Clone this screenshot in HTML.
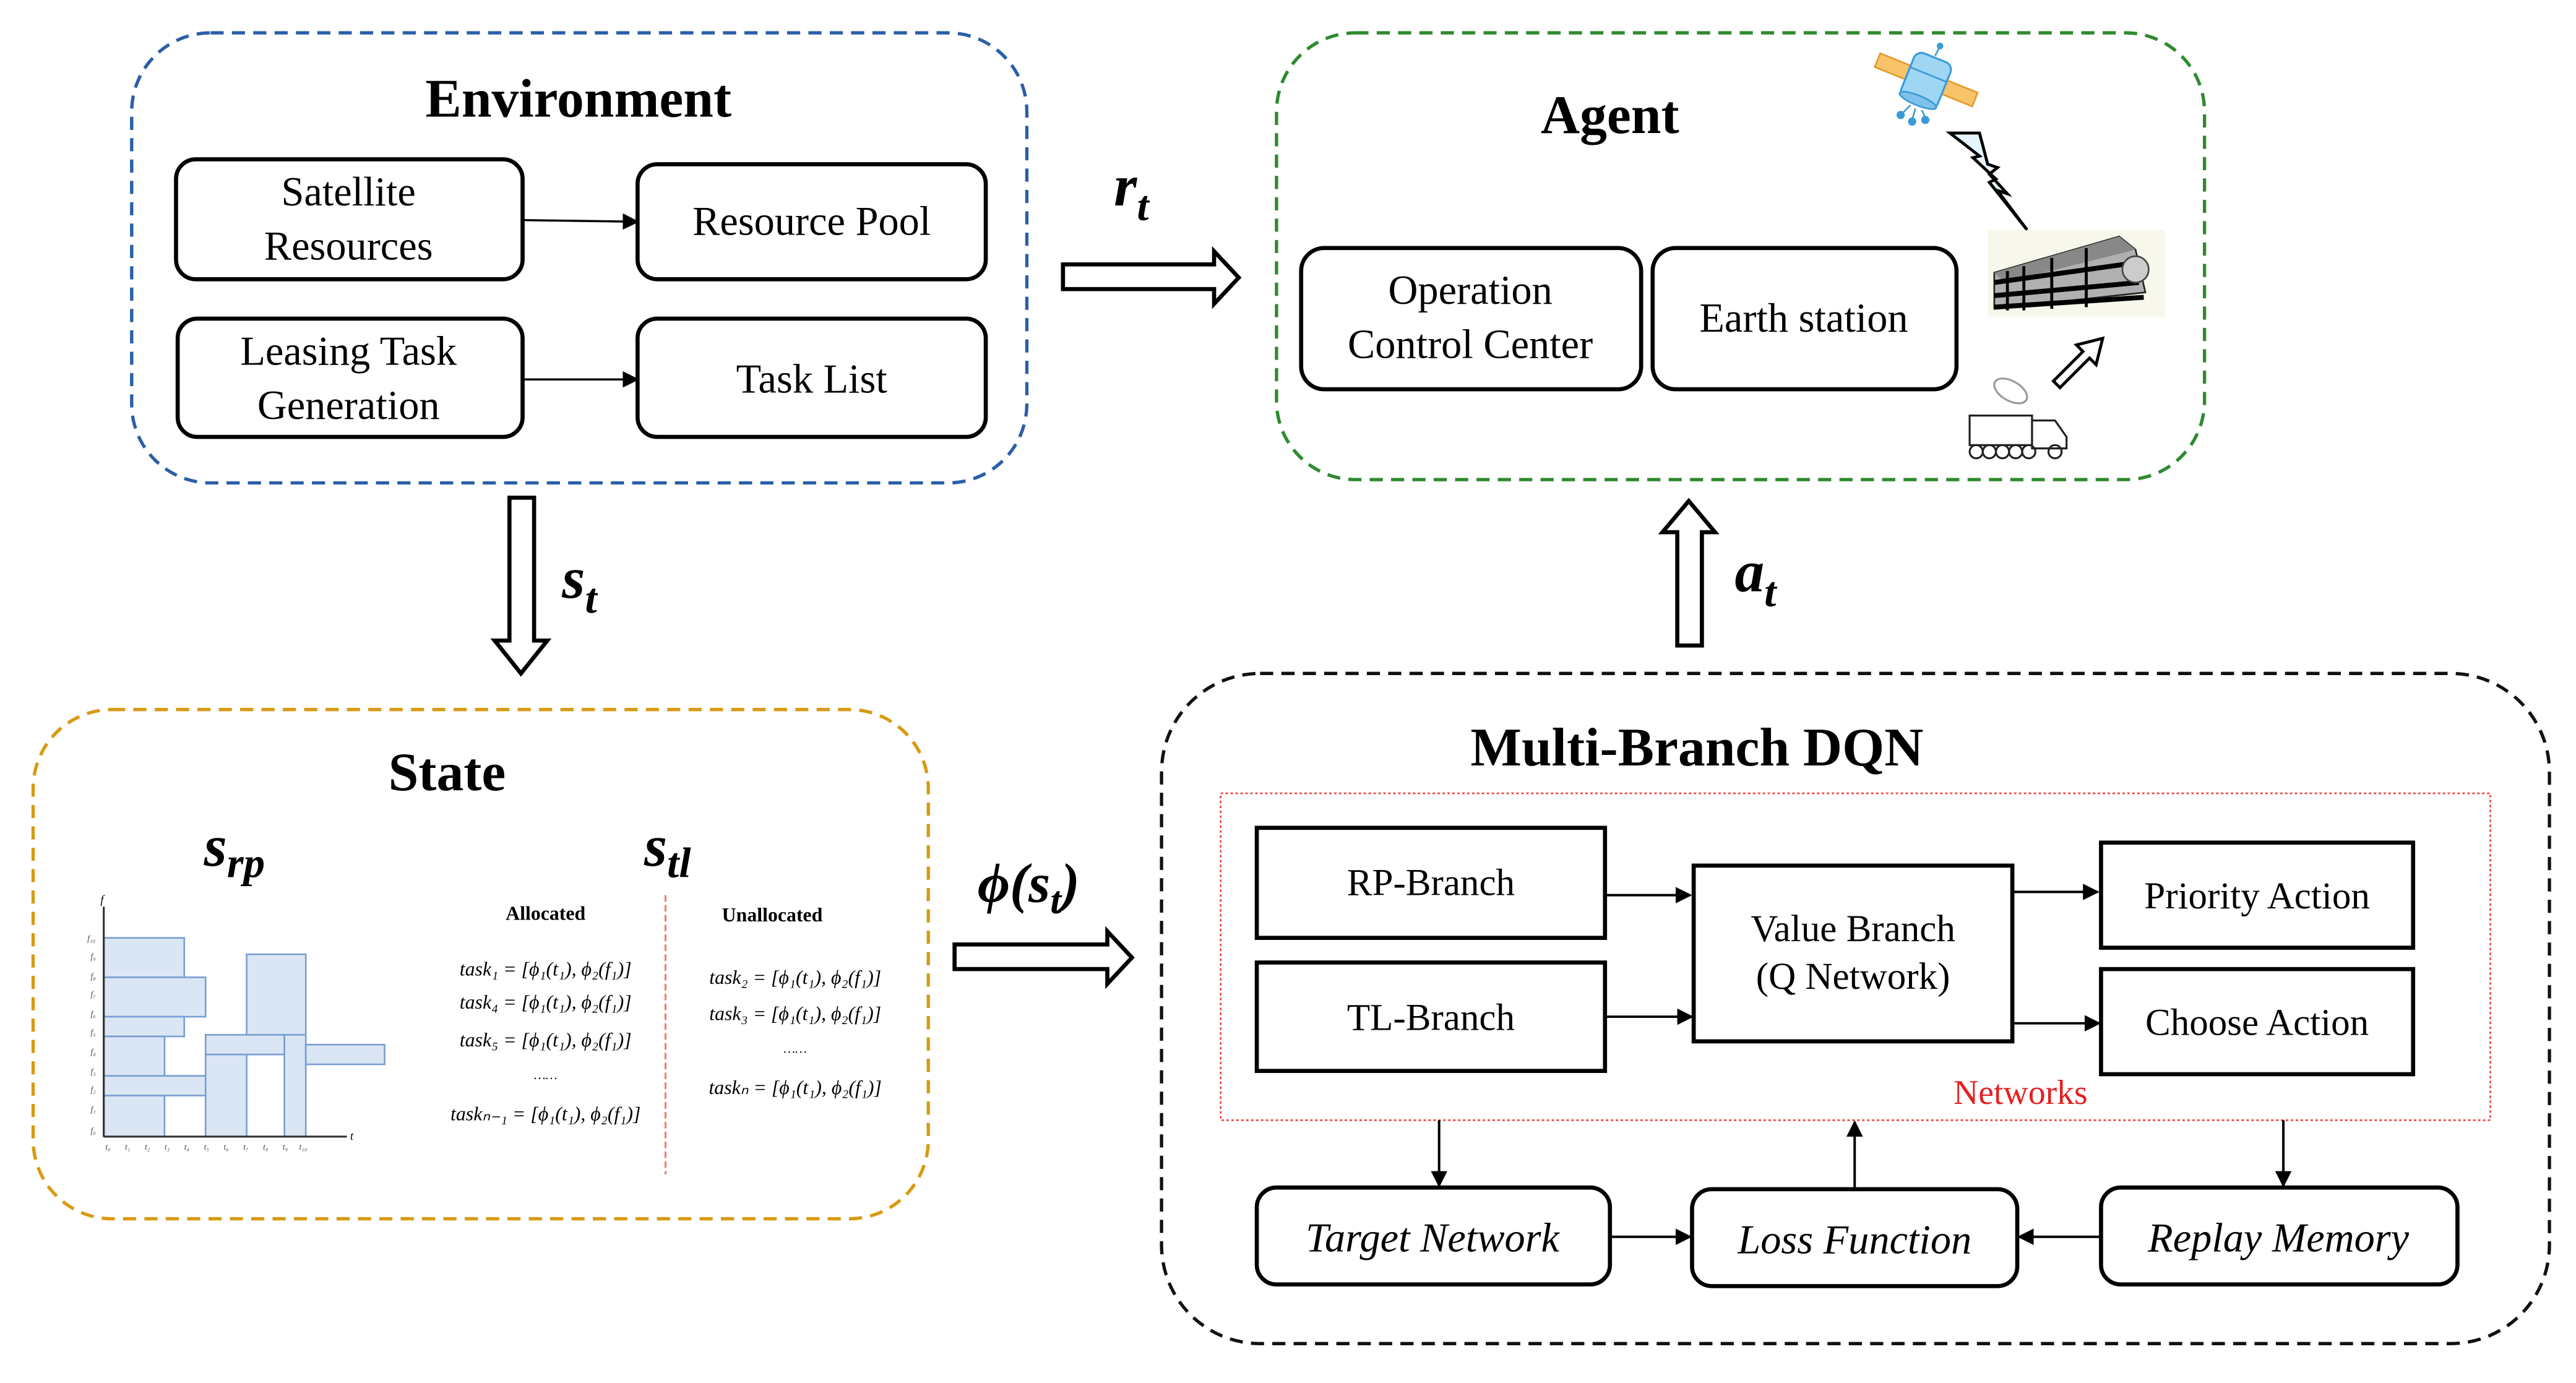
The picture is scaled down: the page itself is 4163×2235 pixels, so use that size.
<!DOCTYPE html>
<html><head><meta charset="utf-8"><style>
html,body{margin:0;padding:0;background:#fff;}
svg{display:block;}
text{font-family:"Liberation Serif",serif;}
</style></head><body>
<svg width="4163" height="2235" viewBox="0 0 1568 842" xmlns="http://www.w3.org/2000/svg">
<defs>
<marker id="ah" markerWidth="10" markerHeight="10" refX="9" refY="5" orient="auto" markerUnits="userSpaceOnUse"><path d="M0,0 L10,5 L0,10 Z" fill="#000"/></marker>
</defs>
<rect width="1568" height="842" fill="#fff"/>

<!-- Environment -->
<rect x="80" y="20" width="545" height="274" rx="48" fill="none" stroke="#2a5fa8" stroke-width="2" stroke-dasharray="8,5"/>
<text x="352" y="71" font-size="33" font-weight="bold" text-anchor="middle">Environment</text>
<g fill="none" stroke="#000" stroke-width="2.5">
<rect x="107" y="97" width="211" height="73" rx="12"/>
<rect x="388" y="100" width="212" height="70" rx="12"/>
<rect x="108" y="194" width="210" height="72" rx="12"/>
<rect x="388" y="194" width="212" height="72" rx="12"/>
</g>
<g font-size="25" text-anchor="middle">
<text x="212" y="125">Satellite</text><text x="212" y="158">Resources</text>
<text x="494" y="143">Resource Pool</text>
<text x="212" y="222">Leasing Task</text><text x="212" y="255">Generation</text>
<text x="494" y="239">Task List</text>
</g>
<g stroke="#000" stroke-width="1.3" marker-end="url(#ah)">
<line x1="318" y1="134" x2="388" y2="135"/>
<line x1="318" y1="231" x2="388" y2="231"/>
</g>

<!-- r_t -->
<text x="678" y="125" font-size="36" font-weight="bold" font-style="italic">r<tspan font-size="26" dy="9">t</tspan></text>
<path d="M647,161 L739,161 L739,153 L754,169 L739,185 L739,176 L647,176 Z" fill="#fff" stroke="#000" stroke-width="2.5"/>

<!-- Agent -->
<rect x="777" y="20" width="565" height="272" rx="48" fill="none" stroke="#2e8a2e" stroke-width="2" stroke-dasharray="8,5"/>
<text x="980" y="81" font-size="33" font-weight="bold" text-anchor="middle">Agent</text>
<rect x="792" y="151" width="207" height="86" rx="14" fill="none" stroke="#000" stroke-width="2.5"/>
<rect x="1006" y="151" width="185" height="86" rx="14" fill="none" stroke="#000" stroke-width="2.5"/>
<g font-size="25" text-anchor="middle">
<text x="895" y="185">Operation</text><text x="895" y="218">Control Center</text>
<text x="1098" y="202">Earth station</text>
</g>
<!-- satellite icon -->
<g>
<g transform="rotate(22 1172 50)">
<rect x="1140" y="44" width="20" height="9" fill="#f7c46a" stroke="#e39a2a" stroke-width="1"/>
<rect x="1184" y="44" width="20" height="9" fill="#f7c46a" stroke="#e39a2a" stroke-width="1"/>
<rect x="1160" y="34" width="24" height="30" rx="5" fill="#9fd6f4" stroke="#3a9ad6" stroke-width="1.2"/>
<line x1="1160" y1="45" x2="1184" y2="45" stroke="#3a9ad6"/>
<ellipse cx="1172" cy="62" rx="12" ry="3" fill="#7ec2ea" stroke="#3a9ad6"/>
</g>
<line x1="1178" y1="34" x2="1181" y2="28" stroke="#3a9ad6"/><circle cx="1181" cy="28" r="2" fill="#3a9ad6"/>
<g stroke="#3a9ad6" stroke-width="1"><line x1="1163" y1="64" x2="1158" y2="69"/><line x1="1166" y1="66" x2="1164" y2="73"/><line x1="1170" y1="67" x2="1172" y2="72"/></g>
<circle cx="1157" cy="70" r="2.5" fill="#3a9ad6"/><circle cx="1164" cy="74" r="2.5" fill="#3a9ad6"/><circle cx="1172" cy="73" r="2.5" fill="#3a9ad6"/>
</g>
<!-- lightning -->
<path d="M1187,81 L1205,81 L1210,100 L1216,102 L1211,106 L1222,118 L1216,116 L1234,140 L1211,111 L1215,109 L1201,96 L1205,95 Z" fill="#e6f4fb" stroke="#000" stroke-width="1.8"/>
<!-- building -->
<rect x="1210" y="140" width="108" height="53" fill="#f4f4e2" opacity="0.7"/>
<path d="M1214,166 L1290,144 L1300,152 L1306,178 L1214,188 Z" fill="#b0b0b0" stroke="#222" stroke-width="1"/>
<path d="M1214,166 L1290,144 L1300,152 L1220,172 Z" fill="#888"/>
<g stroke="#000" stroke-width="3">
<line x1="1214" y1="172" x2="1300" y2="160"/>
<line x1="1214" y1="180" x2="1302" y2="172"/>
<line x1="1214" y1="187" x2="1305" y2="181"/>
</g>
<g stroke="#000" stroke-width="1.8">
<line x1="1222" y1="165" x2="1222" y2="189"/><line x1="1232" y1="162" x2="1232" y2="189"/><line x1="1249" y1="157" x2="1249" y2="188"/><line x1="1270" y1="151" x2="1270" y2="187"/>
</g>
<circle cx="1300" cy="164" r="8" fill="#ccc" stroke="#444"/>
<!-- hollow diagonal arrow -->
<path d="M1250,232 L1268,214 L1264,210 L1280,206 L1276,222 L1272,218 L1254,236 Z" fill="#fff" stroke="#000" stroke-width="1.8"/>
<!-- truck -->
<g fill="none" stroke="#222" stroke-width="1.2">
<ellipse cx="1224" cy="238" rx="11" ry="6" transform="rotate(30 1224 238)" stroke="#999"/>
<rect x="1199" y="253" width="38" height="18"/>
<path d="M1237,256 L1251,256 L1258,266 L1258,273 L1237,273 Z"/>
<circle cx="1203" cy="275" r="4"/><circle cx="1211" cy="275" r="4"/><circle cx="1219" cy="275" r="4"/><circle cx="1227" cy="275" r="4"/><circle cx="1235" cy="275" r="4"/><circle cx="1251" cy="275" r="4"/>
</g>

<!-- s_t down arrow -->
<path d="M310,303 L325,303 L325,390 L333,390 L317,410 L301,390 L310,390 Z" fill="#fff" stroke="#000" stroke-width="2.5"/>
<text x="342" y="364" font-size="36" font-weight="bold" font-style="italic">s<tspan font-size="26" dy="9">t</tspan></text>

<!-- a_t up arrow -->
<path d="M1021,393 L1036,393 L1036,324 L1044,324 L1028,305 L1012,324 L1021,324 Z" fill="#fff" stroke="#000" stroke-width="2.5"/>
<text x="1056" y="360" font-size="36" font-weight="bold" font-style="italic">a<tspan font-size="26" dy="9">t</tspan></text>

<!-- State -->
<rect x="20" y="432" width="545" height="310" rx="48" fill="none" stroke="#d89a12" stroke-width="2" stroke-dasharray="8,5"/>
<text x="272" y="481" font-size="33" font-weight="bold" text-anchor="middle">State</text>
<text x="124" y="527" font-size="36" font-weight="bold" font-style="italic">s<tspan font-size="26" dy="7">rp</tspan></text>
<text x="392" y="527" font-size="36" font-weight="bold" font-style="italic">s<tspan font-size="26" dy="7">tl</tspan></text>
<!-- chart -->
<g fill="#dbe6f5" stroke="#7a9fd4" stroke-width="1">
<rect x="63" y="571" width="49" height="24"/>
<rect x="63" y="595" width="62" height="24"/>
<rect x="63" y="619" width="49" height="12"/>
<rect x="63" y="631" width="37" height="61"/>
<rect x="63" y="655" width="62" height="12"/>
<rect x="125" y="630" width="48" height="12"/>
<rect x="125" y="642" width="25" height="50"/>
<rect x="150" y="581" width="36" height="49"/>
<rect x="173" y="630" width="13" height="62"/>
<rect x="186" y="636" width="48" height="12"/>
</g>
<g stroke="#333" stroke-width="1.2">
<line x1="63" y1="692" x2="63" y2="552"/>
<line x1="63" y1="692" x2="211" y2="692"/>
</g>
<text x="61" y="550" font-size="7" font-style="italic">f</text>
<text x="213" y="694" font-size="7" font-style="italic">t</text>
<g font-size="5" font-style="italic" fill="#444">
<text x="53" y="573">f₁₀</text><text x="55" y="584">f₉</text><text x="55" y="596">f₈</text><text x="55" y="607">f₇</text><text x="55" y="619">f₆</text><text x="55" y="630">f₅</text><text x="55" y="642">f₄</text><text x="55" y="654">f₃</text><text x="55" y="665">f₂</text><text x="55" y="677">f₁</text><text x="55" y="690">f₀</text>
<text x="64" y="700">t₀</text><text x="76" y="700">t₁</text><text x="88" y="700">t₂</text><text x="100" y="700">t₃</text><text x="112" y="700">t₄</text><text x="124" y="700">t₅</text><text x="136" y="700">t₆</text><text x="148" y="700">t₇</text><text x="160" y="700">t₈</text><text x="172" y="700">t₉</text><text x="182" y="700">t₁₀</text>
</g>
<text x="332" y="560" font-size="12" font-weight="bold" text-anchor="middle">Allocated</text>
<text x="470" y="561" font-size="12" font-weight="bold" text-anchor="middle">Unallocated</text>
<line x1="405" y1="545" x2="405" y2="715" stroke="#f08070" stroke-width="1.2" stroke-dasharray="4,2"/>
<g font-size="12" font-style="italic" text-anchor="middle">
<text x="332" y="594">task₁ = [ϕ₁(t₁), ϕ₂(f₁)]</text>
<text x="332" y="614">task₄ = [ϕ₁(t₁), ϕ₂(f₁)]</text>
<text x="332" y="637">task₅ = [ϕ₁(t₁), ϕ₂(f₁)]</text>
<text x="332" y="657" font-size="8">……</text>
<text x="332" y="682">taskₙ₋₁ = [ϕ₁(t₁), ϕ₂(f₁)]</text>
<text x="484" y="599">task₂ = [ϕ₁(t₁), ϕ₂(f₁)]</text>
<text x="484" y="621">task₃ = [ϕ₁(t₁), ϕ₂(f₁)]</text>
<text x="484" y="641" font-size="8">……</text>
<text x="484" y="666">taskₙ = [ϕ₁(t₁), ϕ₂(f₁)]</text>
</g>

<!-- phi(s_t) -->
<text x="595" y="549" font-size="34" font-weight="bold" font-style="italic">ϕ(s<tspan font-size="24" dy="7">t</tspan><tspan dy="-7">)</tspan></text>
<path d="M581,575 L674,575 L674,567 L689,583 L674,599 L674,590 L581,590 Z" fill="#fff" stroke="#000" stroke-width="2.5"/>

<!-- DQN -->
<rect x="707" y="410" width="845" height="408" rx="60" fill="none" stroke="#111" stroke-width="2" stroke-dasharray="8,5"/>
<text x="1033" y="466" font-size="33" font-weight="bold" text-anchor="middle">Multi-Branch DQN</text>
<rect x="743" y="483" width="773" height="199" fill="none" stroke="#f04040" stroke-width="1" stroke-dasharray="1.5,1.5"/>
<g fill="none" stroke="#000" stroke-width="2.5">
<rect x="765" y="504" width="212" height="67"/>
<rect x="765" y="586" width="212" height="66"/>
<rect x="1031" y="527" width="194" height="107"/>
<rect x="1279" y="513" width="190" height="64"/>
<rect x="1279" y="590" width="190" height="64"/>
<rect x="765" y="723" width="215" height="59" rx="12"/>
<rect x="1030" y="724" width="198" height="59" rx="12"/>
<rect x="1279" y="723" width="217" height="59" rx="12"/>
</g>
<g font-size="23" text-anchor="middle">
<text x="871" y="545">RP-Branch</text>
<text x="871" y="627">TL-Branch</text>
<text x="1128" y="573">Value Branch</text>
<text x="1128" y="602">(Q Network)</text>
<text x="1374" y="553">Priority Action</text>
<text x="1374" y="630">Choose Action</text>
</g>
<text x="1230" y="672" font-size="21" fill="#e52020" text-anchor="middle">Networks</text>
<g font-size="25" font-style="italic" text-anchor="middle">
<text x="872" y="762">Target Network</text>
<text x="1129" y="763">Loss Function</text>
<text x="1387" y="762">Replay Memory</text>
</g>
<g stroke="#000" stroke-width="1.5" marker-end="url(#ah)">
<line x1="977" y1="545" x2="1029" y2="545"/>
<line x1="977" y1="619" x2="1030" y2="619"/>
<line x1="1225" y1="543" x2="1277" y2="543"/>
<line x1="1225" y1="623" x2="1278" y2="623"/>
<line x1="876" y1="682" x2="876" y2="722"/>
<line x1="1390" y1="682" x2="1390" y2="722"/>
<line x1="1129" y1="723" x2="1129" y2="683"/>
<line x1="980" y1="753" x2="1029" y2="753"/>
<line x1="1279" y1="753" x2="1229" y2="753"/>
</g>
</svg>
</body></html>
